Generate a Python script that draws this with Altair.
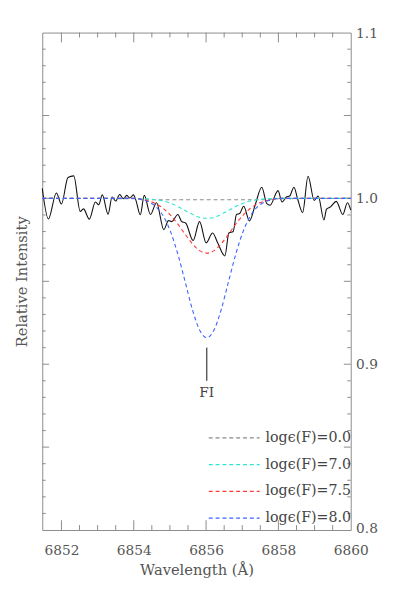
import altair as alt
import pandas as pd

# ---------------- data ----------------
obs_wave = [6851.47, 6851.64, 6851.86, 6852.00, 6852.18, 6852.34, 6852.52, 6852.61,
            6852.77, 6852.94, 6853.03, 6853.13, 6853.29, 6853.40, 6853.50, 6853.61,
            6853.71, 6853.81, 6853.89, 6853.99, 6854.06, 6854.18, 6854.29, 6854.46,
            6854.63, 6854.83, 6854.96, 6855.05, 6855.22, 6855.32, 6855.44, 6855.64,
            6855.82, 6856.00, 6856.18, 6856.32, 6856.52, 6856.63, 6856.75, 6856.84,
            6856.93, 6857.04, 6857.20, 6857.36, 6857.54, 6857.68, 6857.77, 6857.99,
            6858.10, 6858.22, 6858.31, 6858.43, 6858.53, 6858.67, 6858.82, 6858.99,
            6859.10, 6859.26, 6859.33, 6859.44, 6859.60, 6859.78, 6859.91, 6860.00]
obs_flux = [1.0060, 0.9876, 1.0033, 0.9966, 1.0126, 1.0136, 0.9921, 0.9937,
            0.9875, 0.9978, 0.9962, 1.0021, 0.9905, 1.0008, 0.9984, 1.0024,
            0.9998, 1.0018, 1.0002, 1.0021, 0.9988, 0.9901, 1.0018, 0.9903,
            0.9974, 0.9811, 0.9866, 0.9860, 0.9903, 0.9862, 0.9850, 0.9746,
            0.9860, 0.9732, 0.9791, 0.9732, 0.9653, 0.9791, 0.9800, 0.9903,
            0.9909, 0.9953, 0.9864, 0.9962, 1.0067, 0.9968, 0.9959, 1.0047,
            0.9978, 1.0008, 1.0014, 1.0067, 0.9998, 0.9915, 1.0134, 0.9988,
            1.0014, 0.9870, 0.9935, 0.9949, 0.9982, 0.9903, 0.9974, 0.9929]

syn_wave = [6851.47, 6854.02, 6854.22, 6854.42, 6854.62, 6854.82, 6855.02, 6855.22,
            6855.42, 6855.62, 6855.82, 6856.02, 6856.22, 6856.42, 6856.62, 6856.82,
            6857.02, 6857.22, 6857.42, 6857.62, 6857.82, 6858.02, 6860.00]
syn_00 = [1.0, 0.9998, 0.9995, 0.9992, 0.9992, 0.9992, 0.9992, 0.9992,
          0.9992, 0.9992, 0.9992, 0.9992, 0.9992, 0.9992, 0.9992, 0.9992,
          0.9992, 0.9992, 0.9992, 0.9992, 0.9995, 0.9998, 1.0]
syn_70 = [1.0, 1.0, 0.9999, 0.9997, 0.9992, 0.9984, 0.9970, 0.9951,
          0.9927, 0.9904, 0.9886, 0.9880, 0.9886, 0.9904, 0.9927, 0.9951,
          0.9970, 0.9984, 0.9992, 0.9997, 0.9999, 1.0, 1.0]
syn_75 = [1.0, 1.0, 0.9993, 0.9984, 0.9967, 0.9939, 0.9898, 0.9845,
          0.9784, 0.9727, 0.9685, 0.9670, 0.9685, 0.9727, 0.9784, 0.9845,
          0.9898, 0.9939, 0.9967, 0.9984, 0.9993, 1.0, 1.0]
syn_80 = [1.0, 1.0, 0.9992, 0.9978, 0.9949, 0.9892, 0.9798, 0.9663,
          0.9498, 0.9331, 0.9207, 0.9160, 0.9207, 0.9331, 0.9498, 0.9663,
          0.9798, 0.9892, 0.9949, 0.9978, 0.9992, 1.0, 1.0]

series_labels = ["logϵ(F)=0.0", "logϵ(F)=7.0", "logϵ(F)=7.5", "logϵ(F)=8.0"]
series_colors = ["#8a8a8a", "#2ee6d2", "#ff3a3a", "#3d63ff"]

x_domain = [6851.47, 6860.0]
y_domain = [0.8, 1.1]
x_labels = [6852, 6854, 6856, 6858, 6860]
x_major = [6852, 6854, 6856, 6858]
x_minor = [6852.5, 6853.0, 6853.5, 6854.5, 6855.0, 6855.5, 6856.5, 6857.0,
           6857.5, 6858.5, 6859.0, 6859.5]
y_labels = [0.8, 0.9, 1.0, 1.1]
y_major = [0.85, 0.90, 0.95, 1.00, 1.05]
y_minor = [0.81, 0.82, 0.83, 0.84, 0.86, 0.87, 0.88, 0.89, 0.91, 0.92, 0.93, 0.94,
           0.96, 0.97, 0.98, 0.99, 1.01, 1.02, 1.03, 1.04, 1.06, 1.07, 1.08, 1.09]

line_id = "FI"
line_wave = 6856.02
line_top = 0.910
line_bottom = 0.890
line_label_y = 0.8827

# ---------------- tables ----------------
obs = pd.DataFrame({"wave": obs_wave, "flux": obs_flux})
syn_rows = []
for lab, vals in zip(series_labels, [syn_00, syn_70, syn_75, syn_80]):
    for w, v in zip(syn_wave, vals):
        syn_rows.append({"wave": w, "flux": v, "series": lab})
syn = pd.DataFrame(syn_rows)
xmaj = pd.DataFrame({"v": x_major})
xmin = pd.DataFrame({"v": x_minor})
ymaj = pd.DataFrame({"v": y_major})
ymin = pd.DataFrame({"v": y_minor})
ann = pd.DataFrame({"wave": [line_wave], "top": [line_top], "bottom": [line_bottom],
                    "ty": [line_label_y], "label": [line_id]})

FONT = "DejaVu Serif"
TXT = "#555555"
FRAME = "#8a8a8a"
W, H = 315, 508

xs = alt.Scale(domain=x_domain, nice=False, zero=False)
ys = alt.Scale(domain=y_domain, nice=False, zero=False)

bottom_axis = alt.Axis(values=x_labels, format="d", labelFont=FONT, labelFontSize=14,
                       labelColor=TXT, labelPadding=14, ticks=False, tickSize=0,
                       domain=False, grid=False, labelFlush=False, labelOverlap=False,
                       title="Wavelength (Å)", titleFont=FONT, titleFontSize=15,
                       titleColor=TXT, titleFontWeight="normal", titleY=40,
                       titleBaseline="middle")
left_axis = alt.Axis(labels=False, ticks=False, tickSize=0, domain=False, grid=False,
                     title="Relative Intensity", titleFont=FONT, titleFontSize=15,
                     titleColor=TXT, titleFontWeight="normal", titleX=-21, titleY=254,
                     titleAngle=270, titleBaseline="middle", titleAlign="center")
right_axis = alt.Axis(orient="right", values=y_labels, format=".1f", labelFont=FONT,
                      labelFontSize=14, labelColor=TXT, labelPadding=5, labelFlush=True,
                      labelFlushOffset=6, ticks=False, tickSize=0, domain=False,
                      grid=False, title=None)

obs_layer = alt.Chart(obs).mark_line(color="#111111", strokeWidth=1.1,
                                     interpolate="monotone").encode(
    x=alt.X("wave:Q", scale=xs, axis=bottom_axis),
    y=alt.Y("flux:Q", scale=ys, axis=left_axis),
)

syn_layer = alt.Chart(syn).mark_line(strokeWidth=1.1, strokeDash=[4, 3],
                                     interpolate="monotone").encode(
    x=alt.X("wave:Q", scale=xs, axis=None),
    y=alt.Y("flux:Q", scale=ys, axis=None),
    color=alt.Color("series:N",
                    scale=alt.Scale(domain=series_labels, range=series_colors),
                    legend=alt.Legend(title=None, orient="none", legendX=169, legendY=407,
                                      direction="vertical", symbolType="stroke",
                                      symbolSize=2704, symbolStrokeWidth=1.3,
                                      symbolDash=[4, 3], clipHeight=14, rowPadding=12.3,
                                      labelFont=FONT, labelFontSize=14.5, labelColor="#444444",
                                      labelOffset=5, padding=0)),
)

def xticks(df, y1, y2):
    return alt.Chart(df).mark_rule(color=FRAME, strokeWidth=1).encode(
        x=alt.X("v:Q", scale=xs, axis=None), y=alt.value(y1), y2=alt.value(y2))

def yticks(df, x1, x2, axis=None):
    return alt.Chart(df).mark_rule(color=FRAME, strokeWidth=1).encode(
        y=alt.Y("v:Q", scale=ys, axis=axis), x=alt.value(x1), x2=alt.value(x2))

tick_layers = [
    xticks(xmaj, H, H - 10), xticks(xmaj, 0, 10),
    xticks(xmin, H, H - 5), xticks(xmin, 0, 5),
    yticks(ymaj, 0, 7), yticks(ymaj, W, W - 7, axis=right_axis),
    yticks(ymin, 0, 3.5), yticks(ymin, W, W - 3.5),
]

ann_rule = alt.Chart(ann).mark_rule(color="#111111", strokeWidth=1).encode(
    x=alt.X("wave:Q", scale=xs, axis=None),
    y=alt.Y("top:Q", scale=ys, axis=None), y2="bottom:Q")
ann_text = alt.Chart(ann).mark_text(font=FONT, fontSize=14, color="#444444",
                                    baseline="middle", align="center").encode(
    x=alt.X("wave:Q", scale=xs, axis=None),
    y=alt.Y("ty:Q", scale=ys, axis=None), text="label:N")

chart = alt.layer(obs_layer, *tick_layers, syn_layer, ann_rule, ann_text).resolve_axis(
    x="independent", y="independent").properties(
    width=W, height=H,
    autosize=alt.AutoSizeParams(type="none"),
    padding={"left": 35, "top": 19, "right": 35, "bottom": 48},
).configure_view(stroke=FRAME, strokeWidth=1)

chart.save("out.html", embed_options={"renderer": "svg", "actions": False})
